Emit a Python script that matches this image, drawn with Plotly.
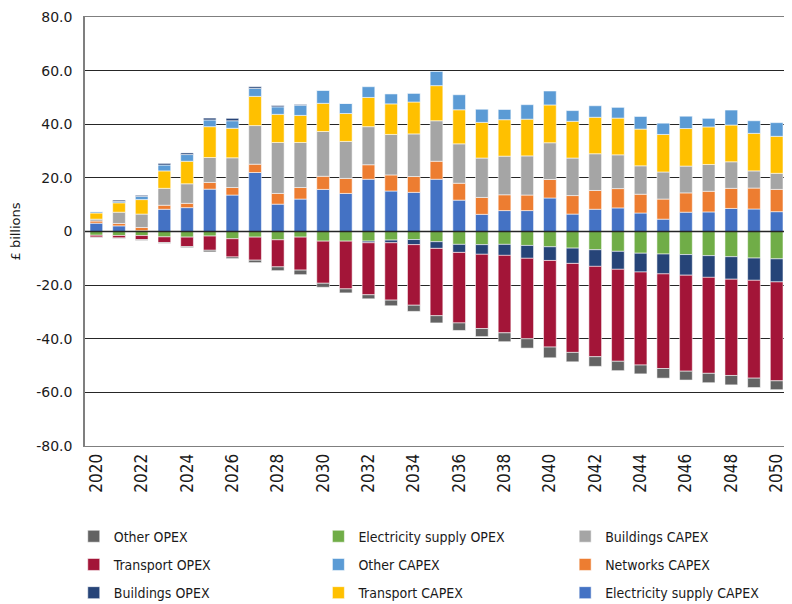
import plotly.graph_objects as go

years = list(range(2020, 2051))

# CAPEX (positive)
elec_capex = [3.1, 2.1, 0.3, 8.3, 8.9, 15.8, 13.6, 22.0, 10.2, 12.1,
              15.7, 14.2, 19.5, 15.1, 14.6, 19.5, 11.7, 6.4, 7.8, 7.8,
              12.5, 6.5, 8.3, 8.8, 6.9, 4.6, 7.2, 7.3, 8.6, 8.4, 7.4]
networks_capex = [0.8, 0.9, 1.2, 1.5, 1.6, 2.5, 2.8, 3.1, 4.0, 4.3,
                  4.9, 5.6, 5.4, 6.0, 5.9, 6.7, 6.3, 6.3, 5.9, 5.8,
                  6.9, 6.9, 7.0, 7.2, 7.0, 7.5, 7.2, 7.7, 7.5, 7.8, 8.3]
buildings_capex = [0.7, 4.2, 5.0, 6.3, 7.3, 9.3, 11.1, 14.4, 19.0, 16.8,
                   16.7, 13.8, 14.2, 15.1, 15.9, 15.1, 14.7, 14.7, 14.4, 14.6,
                   13.7, 14.0, 13.7, 12.6, 10.6, 10.1, 10.0, 10.0, 9.9, 6.4, 6.0]
transport_capex = [2.3, 3.5, 5.4, 6.5, 8.4, 11.5, 11.0, 10.9, 10.5, 10.1,
                   10.5, 10.4, 10.9, 11.4, 11.9, 13.1, 12.7, 13.3, 13.6, 13.7,
                   14.1, 13.7, 13.6, 13.7, 13.7, 14.0, 14.0, 14.0, 13.7, 14.0, 13.8]
other_capex = [0.5, 0.5, 1.2, 2.2, 2.5, 2.5, 2.8, 3.0, 2.8, 3.8,
               4.9, 3.8, 4.0, 3.7, 3.2, 5.3, 5.6, 4.9, 3.8, 5.4,
               5.2, 4.0, 4.3, 4.0, 4.7, 4.2, 4.6, 3.2, 5.6, 4.7, 5.1]

# OPEX (mostly negative)
elec_opex = [-1.4, -1.5, -1.5, -2.0, -2.1, -1.7, -2.7, -2.1, -3.1, -2.1,
             -3.6, -3.6, -3.6, -3.2, -3.0, -3.8, -4.8, -4.9, -4.8, -5.2,
             -5.7, -6.2, -6.8, -7.4, -8.1, -8.4, -8.6, -9.0, -9.4, -9.9, -10.2]
buildings_opex = [0.0, 0.5, 0.4, 0.6, 0.6, 0.7, 0.9, 0.6, 0.5, 0.3,
                  0.0, 0.0, -0.6, -1.0, -1.9, -2.5, -3.0, -3.6, -4.1, -4.8,
                  -5.1, -5.7, -6.2, -6.7, -7.0, -7.4, -7.7, -8.1, -8.4, -8.3, -8.6]
transport_opex = [-0.7, -0.9, -1.5, -2.1, -3.5, -5.3, -6.8, -8.6, -10.1, -12.3,
                  -15.7, -17.8, -19.4, -21.4, -22.6, -25.1, -26.3, -27.7, -28.9, -30.0,
                  -32.3, -33.2, -33.7, -34.3, -34.7, -35.3, -35.8, -35.8, -35.9, -36.5, -36.9]
other_opex = [-0.2, -0.2, -0.3, -0.3, -0.4, -0.6, -0.6, -0.9, -1.4, -1.7,
              -1.5, -1.5, -1.5, -2.1, -2.3, -2.7, -2.8, -3.0, -3.3, -3.5,
              -4.0, -3.5, -3.6, -3.5, -3.3, -3.6, -3.3, -3.5, -3.5, -3.5, -3.3]

# (name, values, colour, legend column, row) in stacking order
series = [
    ("Electricity supply CAPEX", elec_capex, "#4472C4", "legend3", 3),
    ("Networks CAPEX", networks_capex, "#ED7D31", "legend3", 2),
    ("Buildings CAPEX", buildings_capex, "#A5A5A5", "legend3", 1),
    ("Transport CAPEX", transport_capex, "#FFC000", "legend2", 3),
    ("Other CAPEX", other_capex, "#5B9BD5", "legend2", 2),
    ("Electricity supply OPEX", elec_opex, "#70AD47", "legend2", 1),
    ("Buildings OPEX", buildings_opex, "#264478", "legend", 3),
    ("Transport OPEX", transport_opex, "#A31538", "legend", 2),
    ("Other OPEX", other_opex, "#636363", "legend", 1),
]

fig = go.Figure()
for name, vals, colour, leg, rank in series:
    fig.add_trace(go.Bar(
        x=years, y=vals, name=name, legend=leg, legendrank=rank, legendgroup=name,
        marker=dict(color=colour, line=dict(color="rgba(255,255,255,0.55)", width=1)),
    ))

yvals = [80, 60, 40, 20, 0, -20, -40, -60, -80]
ylabels = ["80.0", "60.0", "40.0", "20.0", "0", "-20.0", "-40.0", "-60.0", "-80.0"]

cond = "DejaVu Sans Condensed, Liberation Sans Narrow, Roboto, sans-serif"
legend_style = dict(
    orientation="v", y=-0.174, yanchor="top", xanchor="left",
    font=dict(family=cond, size=14, color="#1a1a1a"),
    itemwidth=30, bgcolor="rgba(0,0,0,0)", tracegroupgap=7,
)

# page is shown with an 8px body margin, so the figure is 8px smaller
fig.update_layout(
    barmode="relative",
    bargap=0.44,
    width=784, height=596,
    margin=dict(l=77, r=4, t=9, b=158, autoexpand=False),
    paper_bgcolor="white", plot_bgcolor="white",
    showlegend=True,
    legend=dict(legend_style, x=-0.016),
    legend2=dict(legend_style, x=0.332),
    legend3=dict(legend_style, x=0.683),
    xaxis=dict(
        range=[2019.5, 2050.5], tickmode="array", tickvals=years[::2],
        ticktext=[str(y) for y in years[::2]], tickangle=-90,
        tickfont=dict(family=cond, size=17, color="#1a1a1a"),
        showgrid=False, showline=True, linecolor="#7f7f7f", linewidth=1, mirror=True,
        ticks="", automargin=False,
    ),
    yaxis=dict(
        range=[-80, 80], tickmode="array", tickvals=yvals, ticktext=ylabels,
        tickfont=dict(family="DejaVu Sans", size=14, color="#1a1a1a"),
        showgrid=True, gridcolor="#262626", gridwidth=1.2,
        zeroline=False, showline=True, linecolor="#7f7f7f", linewidth=1.5, mirror=True,
        ticks="", ticklabelstandoff=8, automargin=False, ticklabeloverflow="allow",
        title=dict(text="£ billions", font=dict(family="DejaVu Sans", size=13, color="#1a1a1a"),
                   standoff=14),
    ),
)

# zero line drawn over the bars
fig.add_shape(type="line", xref="paper", x0=0, x1=1, yref="y", y0=0, y1=0,
              line=dict(color="#262626", width=1.5), layer="above")

fig.write_html("out.html")
